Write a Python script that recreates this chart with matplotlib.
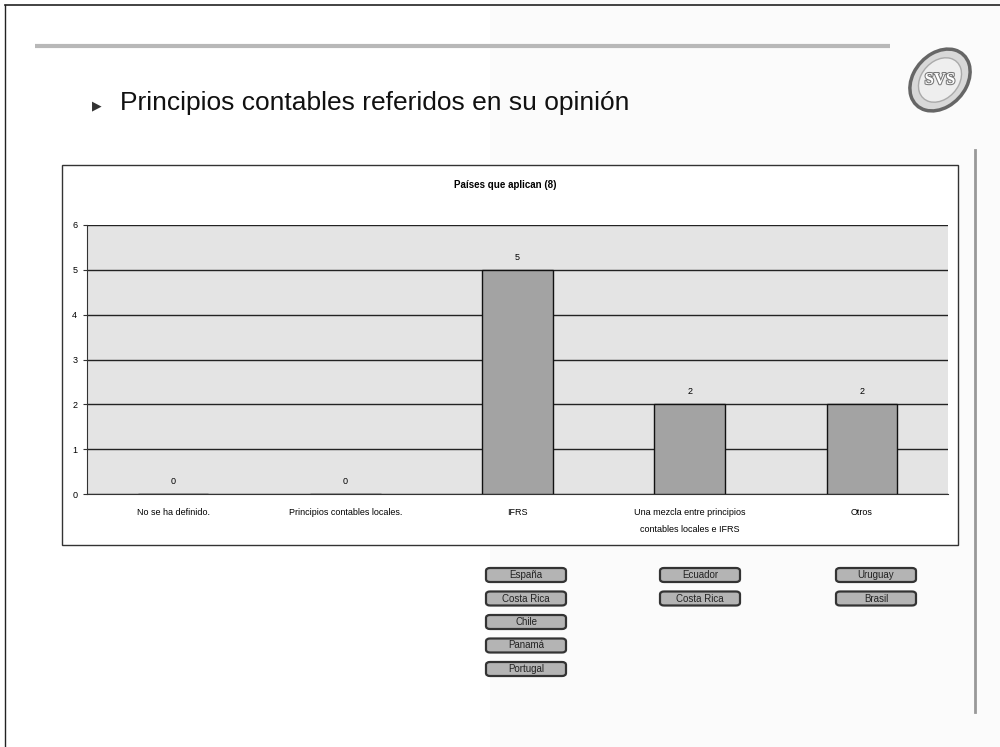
import matplotlib
matplotlib.use("Agg")
import matplotlib.pyplot as plt
import matplotlib.patheffects as pe
from matplotlib.patches import FancyBboxPatch, Ellipse, Rectangle
from matplotlib.lines import Line2D

# Chart data
categories = ["No se ha definido.", "Principios contables locales.", "IFRS",
              "Una mezcla entre principios\ncontables locales e IFRS", "Otros"]
values = [0, 0, 5, 2, 2]
yticks = [0, 1, 2, 3, 4, 5, 6]
chart_title = "Países que aplican (8)"
slide_title = "Principios contables referidos en su opinión"

# Countries listed under each answer with at least one country
countries_ifrs = ["España", "Costa Rica", "Chile", "Panamá", "Portugal"]
countries_mix = ["Ecuador", "Costa Rica"]
countries_other = ["Uruguay", "Brasil"]

W, H = 1000, 747
fig = plt.figure(figsize=(W / 100, H / 100), dpi=100)
fig.patch.set_facecolor("white")


def fx(x):
    return x / W


def fy(y):
    return 1 - y / H


# Slide decoration
fig.add_artist(Rectangle((fx(490), 0), fx(1000) - fx(490), 1, transform=fig.transFigure,
                         facecolor="#fbfbfb", edgecolor="none", zorder=0))
fig.add_artist(Line2D([fx(5), fx(1000)], [fy(5), fy(5)], transform=fig.transFigure,
                      color="#222222", lw=1.2))
fig.add_artist(Line2D([fx(5), fx(5)], [fy(5), fy(747)], transform=fig.transFigure,
                      color="#222222", lw=1.0))
fig.add_artist(Line2D([fx(35), fx(890)], [fy(46), fy(46)], transform=fig.transFigure,
                      color="#b8b8b8", lw=3.0, solid_capstyle="butt"))
fig.add_artist(Line2D([fx(975), fx(975)], [fy(150), fy(712)], transform=fig.transFigure,
                      color="#999999", lw=2.0))

# Logo
fig.add_artist(Ellipse((fx(940), fy(80)), fx(56), fx(64) * W / H, angle=-20,
                       transform=fig.transFigure,
                       facecolor="#d8d8d8", edgecolor="#666666", lw=2.5))
fig.add_artist(Ellipse((fx(940), fy(80)), fx(40), fx(46) * W / H, angle=-20,
                       transform=fig.transFigure,
                       facecolor="#eeeeee", edgecolor="#aaaaaa", lw=1))
fig.text(fx(940), fy(80), "SVS", ha="center", va="center", fontsize=12,
         color="white", fontweight="bold", family="Liberation Serif",
         path_effects=[pe.withStroke(linewidth=1.5, foreground="#777777")])

# Slide title
fig.text(fx(92), fy(106), "\u25b6", ha="left", va="center", fontsize=9, color="#333333",
         family="DejaVu Sans")
fig.text(fx(120), fy(103), slide_title, ha="left", va="center", fontsize=19,
         color="#111111", family="Liberation Sans")

# Chart frame
fig.add_artist(Rectangle((fx(62), fy(545)), fx(958) - fx(62), fy(165) - fy(545),
                         transform=fig.transFigure, facecolor="white",
                         edgecolor="#333333", lw=1.0, zorder=1))
fig.text(fx(505), fy(185), chart_title, ha="center", va="center", fontsize=7,
         fontweight="bold", family="Liberation Sans", zorder=3)

# Plot area
ax = fig.add_axes([fx(87), fy(494), fx(948) - fx(87), fy(225) - fy(494)])
ax.set_zorder(2)
ax.set_facecolor("#e4e4e4")
x = list(range(len(categories)))
bars = ax.bar(x, values, width=0.41, color="#a3a3a3", edgecolor="#111111", lw=1.0, zorder=3)
ax.set_xlim(-0.5, len(categories) - 0.5)
ax.set_ylim(0, 6)
ax.set_yticks(yticks)
ax.set_yticklabels([str(t) for t in yticks], fontsize=6.5, family="Liberation Sans")
ax.yaxis.grid(True, color="#222222", lw=1.0, zorder=1)
ax.set_axisbelow(True)
ax.set_xticks(x)
ax.set_xticklabels(categories, fontsize=6.5, family="Liberation Sans", linespacing=2.2)
ax.tick_params(axis="x", length=0, pad=10)
ax.tick_params(axis="y", length=3, pad=4, color="#333333")
for s in ["top", "right"]:
    ax.spines[s].set_visible(False)
ax.spines["left"].set_color("#333333")
ax.spines["bottom"].set_color("#333333")
for rect, v in zip(bars, values):
    ax.text(rect.get_x() + rect.get_width() / 2, v + 0.18, str(v), ha="center",
            va="bottom", fontsize=6.5, family="Liberation Sans", zorder=4)

# Country buttons under each bar
def draw_buttons(names, xc):
    for i, name in enumerate(names):
        yc = 575 + i * 23.5
        w, h = 80, 14
        box = FancyBboxPatch((fx(xc - w / 2), fy(yc + h / 2)), fx(w), fy(0) - fy(h),
                             boxstyle="round,pad=0,rounding_size=0.004",
                             transform=fig.transFigure, facecolor="#b4b4b4",
                             edgecolor="#333333", lw=1.6)
        fig.add_artist(box)
        fig.text(fx(xc), fy(yc), name, ha="center", va="center", fontsize=7,
                 family="Liberation Sans", color="#222222")


draw_buttons(countries_ifrs, 526)
draw_buttons(countries_mix, 700)
draw_buttons(countries_other, 876)

fig.savefig("out.png", dpi=100)
